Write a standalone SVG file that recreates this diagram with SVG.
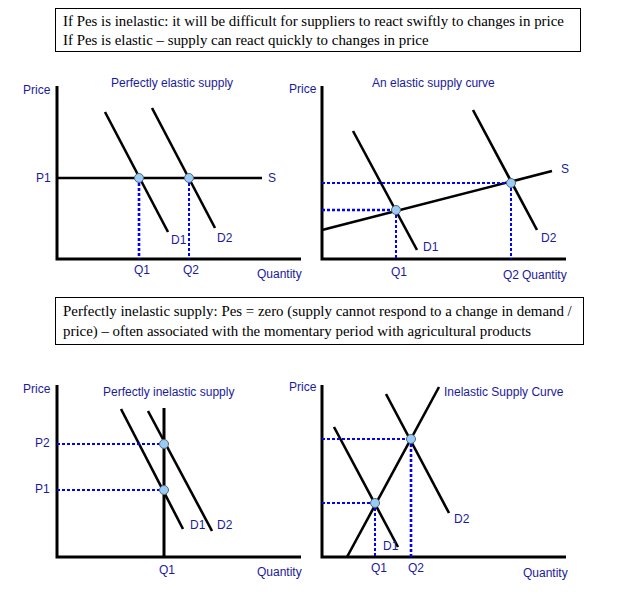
<svg xmlns="http://www.w3.org/2000/svg" width="640" height="600" viewBox="0 0 640 600">
<style>
.bg{fill:#fff}
.box{fill:#fff;stroke:#000;stroke-width:1}
.note{font-family:"Liberation Serif",serif;font-size:14.9px;fill:#000}
.lbl{font-family:"Liberation Sans",Arial,sans-serif;font-size:12px;fill:#1a1a9c}
.axis{stroke:#000;stroke-width:3;fill:none}
.curve{stroke:#000;stroke-width:2.6;fill:none}
.dot{stroke:#0000ff;stroke-width:2.6;stroke-dasharray:3 2;fill:none}
.dot2{stroke:#0000ff;stroke-width:2;stroke-dasharray:3 2;fill:none}
.pt{fill:#99ccf5;stroke:#556677;stroke-width:1}
</style>
<rect class="bg" x="0" y="0" width="640" height="600"/>

<g id="note-top">
<rect class="box" x="55.5" y="8.5" width="525" height="43"/>
<text class="note" x="63" y="26">If Pes is inelastic: it will be difficult for suppliers to react swiftly to changes in price</text>
<text class="note" x="63" y="45">If Pes is elastic – supply can react quickly to changes in price</text>
</g>

<g id="note-mid">
<rect class="box" x="55.5" y="297.5" width="528" height="47"/>
<text class="note" x="63" y="316">Perfectly inelastic supply: Pes = zero (supply cannot respond to a change in demand /</text>
<text class="note" x="63" y="336">price) – often associated with the momentary period with agricultural products</text>
</g>

<!-- Chart 1 -->
<g id="chart1">
<g id="chart1-connectors">
<polyline class="axis" points="57,86 57,259 301,259"/>
<line class="curve" x1="57" y1="178" x2="262" y2="178"/>
<line class="curve" x1="105" y1="112" x2="168" y2="232"/>
<line class="curve" x1="152" y1="108" x2="215" y2="228"/>
<line class="dot" x1="139" y1="183" x2="139" y2="259"/>
<line class="dot2" x1="189" y1="183" x2="189" y2="259"/>
</g>
<g id="chart1-points">
<circle class="pt" cx="139" cy="178" r="4.5"/>
<circle class="pt" cx="189" cy="178" r="4.5"/>
</g>
<text class="lbl" x="23" y="94">Price</text>
<text class="lbl" x="111" y="87">Perfectly elastic supply</text>
<text class="lbl" x="268" y="182">S</text>
<text class="lbl" x="36" y="182">P1</text>
<text class="lbl" x="171" y="244">D1</text>
<text class="lbl" x="217" y="242">D2</text>
<text class="lbl" x="134" y="274">Q1</text>
<text class="lbl" x="183" y="274">Q2</text>
<text class="lbl" x="257" y="278">Quantity</text>
</g>

<!-- Chart 2 -->
<g id="chart2">
<g id="chart2-connectors">
<polyline class="axis" points="322,86 322,259 566,259"/>
<line class="curve" x1="322" y1="230" x2="552" y2="171"/>
<line class="curve" x1="353" y1="131" x2="417" y2="250"/>
<line class="curve" x1="473" y1="110" x2="537" y2="230"/>
<line class="dot" x1="322" y1="210" x2="391" y2="210"/>
<line class="dot2" x1="322" y1="183" x2="506" y2="183"/>
<line class="dot2" x1="396" y1="215" x2="396" y2="259"/>
<line class="dot2" x1="511" y1="188" x2="511" y2="259"/>
</g>
<g id="chart2-points">
<circle class="pt" cx="396" cy="210" r="4.5"/>
<circle class="pt" cx="511" cy="183" r="4.5"/>
</g>
<text class="lbl" x="289" y="93">Price</text>
<text class="lbl" x="372" y="87">An elastic supply curve</text>
<text class="lbl" x="561" y="173">S</text>
<text class="lbl" x="423" y="251">D1</text>
<text class="lbl" x="541" y="242">D2</text>
<text class="lbl" x="391" y="276">Q1</text>
<text class="lbl" x="503" y="279">Q2</text>
<text class="lbl" x="522" y="279">Quantity</text>
</g>

<!-- Chart 3 -->
<g id="chart3">
<g id="chart3-connectors">
<polyline class="axis" points="57,385 57,557 301,557"/>
<line class="axis" x1="164" y1="408" x2="164" y2="557"/>
<line class="curve" x1="121" y1="409" x2="183" y2="529"/>
<line class="curve" x1="148" y1="411" x2="212" y2="531"/>
<line class="dot2" x1="57" y1="444" x2="159" y2="444"/>
<line class="dot2" x1="57" y1="490" x2="159" y2="490"/>
</g>
<g id="chart3-points">
<circle class="pt" cx="164" cy="444" r="4.5"/>
<circle class="pt" cx="164" cy="490" r="4.5"/>
</g>
<text class="lbl" x="23" y="393">Price</text>
<text class="lbl" x="103" y="396">Perfectly inelastic supply</text>
<text class="lbl" x="35" y="447">P2</text>
<text class="lbl" x="35" y="493">P1</text>
<text class="lbl" x="190" y="529">D1</text>
<text class="lbl" x="217" y="529">D2</text>
<text class="lbl" x="159" y="574">Q1</text>
<text class="lbl" x="257" y="576">Quantity</text>
</g>

<!-- Chart 4 -->
<g id="chart4">
<g id="chart4-connectors">
<polyline class="axis" points="322,385 322,557 566,557"/>
<line class="curve" x1="347" y1="557" x2="439" y2="387"/>
<line class="curve" x1="334" y1="427" x2="398" y2="547"/>
<line class="curve" x1="386" y1="394" x2="449" y2="513"/>
<line class="dot2" x1="322" y1="503" x2="370" y2="503"/>
<line class="dot2" x1="322" y1="439" x2="406" y2="439"/>
<line class="dot2" x1="375" y1="508" x2="375" y2="557"/>
<line class="dot" x1="411" y1="444" x2="411" y2="557"/>
</g>
<g id="chart4-points">
<circle class="pt" cx="375" cy="503" r="4.5"/>
<circle class="pt" cx="411" cy="439" r="4.5"/>
</g>
<text class="lbl" x="289" y="391">Price</text>
<text class="lbl" x="444" y="396">Inelastic Supply Curve</text>
<text class="lbl" x="454" y="523">D2</text>
<text class="lbl" x="383" y="550">D1</text>
<text class="lbl" x="371" y="572">Q1</text>
<text class="lbl" x="408" y="572">Q2</text>
<text class="lbl" x="523" y="577">Quantity</text>
</g>
</svg>
